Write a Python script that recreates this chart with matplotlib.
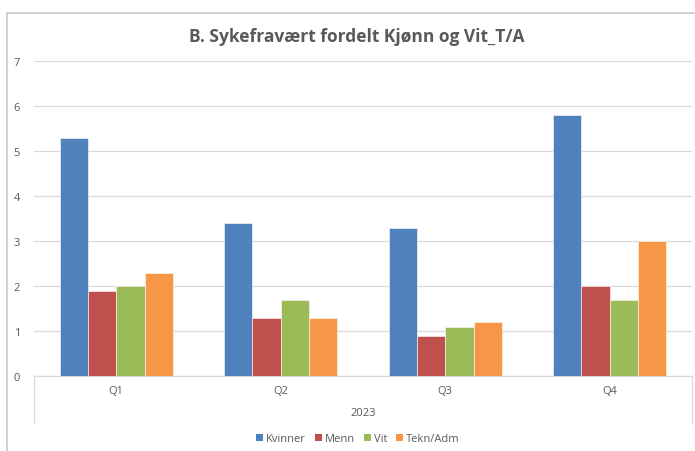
import matplotlib
matplotlib.use("Agg")
import matplotlib.pyplot as plt
from matplotlib.lines import Line2D
from matplotlib.patches import Patch
import numpy as np

categories = ["Q1", "Q2", "Q3", "Q4"]
group_label = "2023"
series_names = ["Kvinner", "Menn", "Vit", "Tekn/Adm"]
kvinner = [5.3, 3.4, 3.3, 5.8]
menn = [1.9, 1.3, 0.9, 2.0]
vit = [2.0, 1.7, 1.1, 1.7]
tekn_adm = [2.3, 1.3, 1.2, 3.0]
colors = ["#4F81BD", "#C0504D", "#9BBB59", "#F79646"]
title = "B. Sykefravært fordelt Kjønn og Vit_T/A"

W, H = 695, 452
fig = plt.figure(figsize=(W / 100, H / 100), dpi=100)
fig.patch.set_facecolor("white")

def fx(px):
    return px / W

def fy(py):
    return 1 - py / H

ax = fig.add_axes([fx(34), fy(377), fx(692) - fx(34), fy(62) - fy(377)])

series = [kvinner, menn, vit, tekn_adm]
x = np.arange(len(categories))
bw = 0.172
for i, (vals, c) in enumerate(zip(series, colors)):
    ax.bar(x + (i - 1.5) * bw, vals, width=bw, color=c, edgecolor="#ffffff",
           linewidth=0.4, zorder=3)

ax.set_xlim(-0.5, 3.5)
ax.set_ylim(0, 7)
ax.set_yticks(range(0, 8))
ax.yaxis.grid(True, color="#d9d9d9", linewidth=0.9, zorder=0)
ax.set_axisbelow(True)
for s in ["top", "right", "left"]:
    ax.spines[s].set_visible(False)
ax.spines["bottom"].set_color("#d9d9d9")
ax.spines["bottom"].set_linewidth(0.9)
ax.tick_params(axis="y", length=0, labelsize=8, labelcolor="#595959", pad=10)
ax.tick_params(axis="x", length=0, labelbottom=False)
for lab in ax.get_yticklabels():
    lab.set_fontfamily("Open Sans")

# category labels (multi-level axis)
for xi, cat in zip(x, categories):
    ax.text(xi, -0.33, cat, ha="center", va="center", fontsize=8, color="#595959",
            family="Open Sans")
fig.text(fx(363), fy(414), group_label, ha="center", va="center", fontsize=8,
         color="#595959", family="Open Sans")

# bracket lines of multi-level axis
for px in (33.5, 692):
    fig.add_artist(Line2D([fx(px), fx(px)], [fy(377), fy(424)], color="#d9d9d9",
                          linewidth=0.9, transform=fig.transFigure))

# outer chart frame
fig.add_artist(Line2D([fx(7), fx(7), fx(695)], [fy(452), fy(14), fy(14)],
                      color="#c8c8c8", linewidth=1.2, transform=fig.transFigure))

fig.text(fx(357), fy(37), title, ha="center", va="center", fontsize=12.5,
         fontweight="bold", color="#595959", family="Open Sans")

handles = [Patch(facecolor=c, edgecolor="none") for c in colors]
fig.legend(handles, series_names, loc="center", bbox_to_anchor=(fx(358), fy(440)),
           ncol=4, frameon=False, handlelength=0.6, handleheight=0.6,
           handletextpad=0.3, columnspacing=0.8, labelcolor="#595959",
           prop={"family": "Open Sans", "size": 8})

fig.savefig("out.png", dpi=100, facecolor="white")
